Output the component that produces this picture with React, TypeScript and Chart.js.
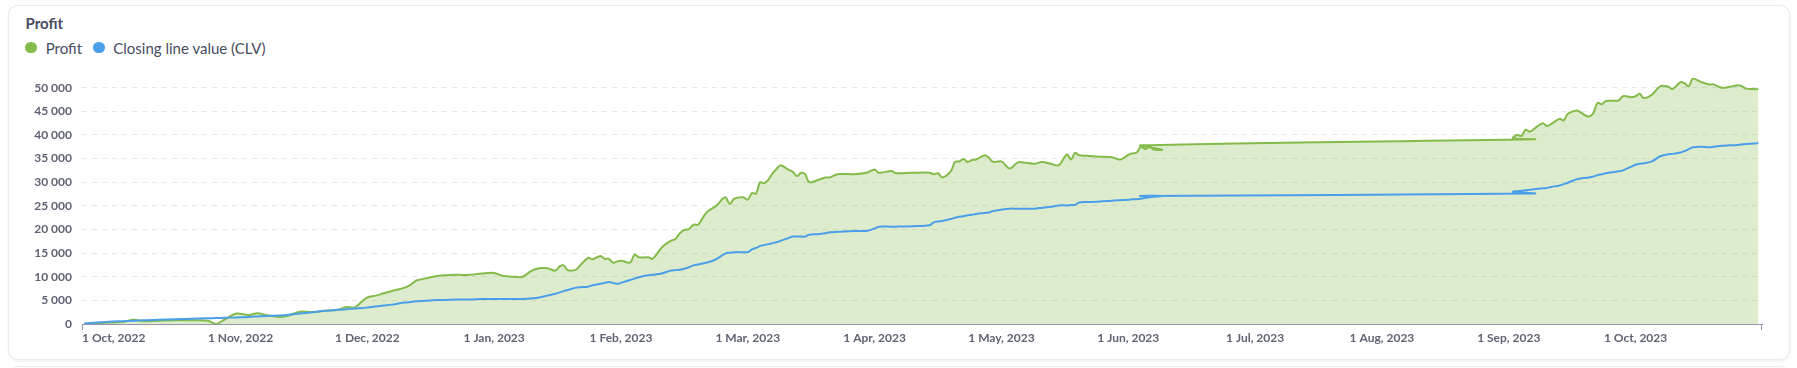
import React, { useEffect, useRef } from 'react';
import { Chart, registerables } from 'chart.js';

Chart.register(...registerables);

// ---- data ----
const dates: string[] = [
  '2022-09-24', '2022-09-27', '2022-09-30',
  '2022-10-03', '2022-10-06', '2022-10-08', '2022-10-12', '2022-10-16', '2022-10-20', '2022-10-24', '2022-10-26', '2022-10-28', '2022-10-31',
  '2022-11-03', '2022-11-05', '2022-11-07', '2022-11-10', '2022-11-12', '2022-11-15', '2022-11-18', '2022-11-21', '2022-11-24', '2022-11-26', '2022-11-28', '2022-11-30',
  '2022-12-01', '2022-12-03', '2022-12-05', '2022-12-07', '2022-12-09', '2022-12-11', '2022-12-13', '2022-12-15', '2022-12-17', '2022-12-20', '2022-12-23', '2022-12-26', '2022-12-29',
  '2023-01-01', '2023-01-03', '2023-01-06', '2023-01-08', '2023-01-10', '2023-01-12', '2023-01-14', '2023-01-16', '2023-01-17', '2023-01-18', '2023-01-19', '2023-01-21', '2023-01-22', '2023-01-24', '2023-01-25', '2023-01-27', '2023-01-28', '2023-01-29', '2023-01-30', '2023-01-31',
  '2023-02-01', '2023-02-03', '2023-02-04', '2023-02-05', '2023-02-07', '2023-02-08', '2023-02-10', '2023-02-12', '2023-02-13', '2023-02-14', '2023-02-15', '2023-02-16', '2023-02-17', '2023-02-18', '2023-02-19', '2023-02-20', '2023-02-22', '2023-02-24', '2023-02-25', '2023-02-26', '2023-02-28',
  '2023-03-01', '2023-03-02', '2023-03-03', '2023-03-04', '2023-03-05', '2023-03-06', '2023-03-07', '2023-03-08', '2023-03-09', '2023-03-11', '2023-03-12', '2023-03-13', '2023-03-14', '2023-03-15', '2023-03-16', '2023-03-18', '2023-03-20', '2023-03-21', '2023-03-23', '2023-03-27', '2023-03-30',
  '2023-04-01', '2023-04-02', '2023-04-05', '2023-04-06', '2023-04-10', '2023-04-14', '2023-04-15', '2023-04-16', '2023-04-17', '2023-04-19', '2023-04-20', '2023-04-21', '2023-04-22', '2023-04-23', '2023-04-24', '2023-04-25', '2023-04-27', '2023-04-28', '2023-04-29',
  '2023-05-01', '2023-05-03', '2023-05-05', '2023-05-07', '2023-05-09', '2023-05-11', '2023-05-13', '2023-05-15', '2023-05-17', '2023-05-18', '2023-05-19', '2023-05-20', '2023-05-22', '2023-05-25', '2023-05-28', '2023-05-30',
  '2023-06-01', '2023-06-02', '2023-06-03', '2023-06-04', '2023-06-05', '2023-06-06', '2023-06-07', '2023-06-09', '2023-06-04',
  '2023-09-07',
  '2023-09-02', '2023-09-03', '2023-09-04', '2023-09-05', '2023-09-06', '2023-09-07', '2023-09-09', '2023-09-10', '2023-09-11', '2023-09-13', '2023-09-14', '2023-09-15', '2023-09-17', '2023-09-18', '2023-09-19', '2023-09-20', '2023-09-21', '2023-09-22', '2023-09-23', '2023-09-24', '2023-09-27', '2023-09-28', '2023-09-30',
  '2023-10-01', '2023-10-02', '2023-10-03', '2023-10-05', '2023-10-07', '2023-10-09', '2023-10-10', '2023-10-12', '2023-10-13', '2023-10-14', '2023-10-15', '2023-10-17', '2023-10-19', '2023-10-20', '2023-10-22', '2023-10-24', '2023-10-26', '2023-10-27', '2023-10-28', '2023-10-30', '2023-10-31',
];

const profit: number[] = [
  0, 200, 300,
  400, 900, 600, 700, 800, 800, 700, 0, 900, 2200,
  1900, 2300, 1900, 1500, 1700, 2600, 2500, 2800, 3000, 3600, 3500, 5000,
  5600, 6000, 6500, 7000, 7400, 8000, 9200, 9600, 10000, 10300, 10400, 10400, 10700,
  10800, 10200, 10000, 10000, 11200, 11800, 11800, 11300, 12200, 12400, 11400, 11500, 12400, 14000, 13700, 14400, 13800, 13800, 13000, 13200,
  13400, 13000, 14700, 14100, 14100, 13800, 16200, 17600, 18000, 19200, 19900, 20100, 21000, 21000, 22400, 23700, 25000, 26800, 25400, 26500, 26800,
  26300, 27700, 27600, 30000, 29800, 30500, 31800, 32800, 33600, 32600, 32200, 31300, 32000, 31700, 30000, 30400, 31000, 31000, 31700, 31700, 32000,
  32700, 32000, 32400, 31900, 32000, 32000, 31700, 31900, 31000, 32300, 34300, 34400, 34900, 34300, 34700, 34800, 35700, 35200, 34300,
  34400, 32900, 34200, 34100, 33900, 34300, 33900, 33600, 35900, 34800, 36200, 35700, 35600, 35400, 35300, 34800,
  35800, 36100, 36300, 37500, 37000, 37600, 36900, 36900, 37800,
  39100,
  39300, 40000, 39800, 41100, 40700, 41300, 42500, 41900, 42300, 43400, 43100, 44500, 45200, 44800, 44200, 43900, 44600, 46800, 46500, 47200, 47300, 48200, 48000,
  48200, 48700, 47800, 48500, 50300, 50200, 49700, 51200, 50900, 50300, 51900, 51200, 50700, 50700, 50000, 50200, 50500, 50300, 49800, 49700, 49700,
];

const clv: number[] = [
  100, 300, 500,
  600, 700, 800, 900, 1000, 1100, 1200, 1250, 1300, 1400,
  1500, 1600, 1700, 1800, 1900, 2200, 2500, 2800, 3000, 3100, 3300, 3400,
  3500, 3700, 3900, 4100, 4400, 4600, 4800, 4900, 5000, 5100, 5200, 5200, 5300,
  5300, 5300, 5300, 5300, 5400, 5600, 6000, 6400, 6700, 7000, 7200, 7700, 7800, 7900, 8200, 8500, 8700, 8900, 8700, 8500,
  8700, 9300, 9600, 9900, 10300, 10400, 10700, 11300, 11400, 11500, 11700, 12000, 12400, 12600, 12800, 13000, 13700, 14900, 15100, 15200, 15200,
  15200, 15800, 16100, 16500, 16700, 16900, 17100, 17300, 17600, 18200, 18500, 18500, 18500, 18500, 18900, 19000, 19200, 19400, 19500, 19700, 19700,
  20200, 20600, 20600, 20600, 20700, 20900, 21500, 21700, 21800, 22200, 22500, 22700, 22800, 23000, 23100, 23300, 23500, 23600, 23900,
  24200, 24400, 24400, 24400, 24400, 24600, 24800, 25100, 25100, 25200, 25200, 25700, 25800, 25900, 26100, 26200,
  26300, 26400, 26400, 26500, 26700, 26800, 26900, 27100, 27100,
  27600,
  28000, 28100, 28200, 28300, 28400, 28500, 28700, 28800, 29000, 29300, 29600, 29900, 30600, 30800, 30900, 31000, 31200, 31500, 31700, 31900, 32300, 32500, 33300,
  33700, 33900, 34000, 34400, 35500, 35900, 36000, 36300, 36600, 37000, 37400, 37500, 37400, 37500, 37700, 37800, 37900, 38000, 38100, 38200, 38300,
];

const tickDates: string[] = [
  '2022-10-01', '2022-11-01', '2022-12-01', '2023-01-01', '2023-02-01', '2023-03-01', '2023-04-01',
  '2023-05-01', '2023-06-01', '2023-07-01', '2023-08-01', '2023-09-01', '2023-10-01',
];
const monthNames: string[] = ['Jan', 'Feb', 'Mar', 'Apr', 'May', 'Jun', 'Jul', 'Aug', 'Sep', 'Oct', 'Nov', 'Dec'];
const yTicks: number[] = [0, 5000, 10000, 15000, 20000, 25000, 30000, 35000, 40000, 45000, 50000];

const seriesNames: string[] = ['Profit', 'Closing line value (CLV)'];
const seriesColors: string[] = ['#84bb4a', '#4b9fe8'];

const Y_MAX = 52900;

// ---- helpers ----
// Position on the x axis in month units (every month has equal width, 0 = 1 Oct 2022)
function pos(d: string): number {
  const [y, m, day] = d.split('-').map(Number);
  const monthIdx = (y - 2022) * 12 + (m - 1) - 9;
  const daysInMonth = new Date(y, m, 0).getDate();
  return monthIdx + (day - 1) / daysInMonth;
}
function tickLabel(d: string): string {
  const [y, m, day] = d.split('-').map(Number);
  return `${day} ${monthNames[m - 1]}, ${y}`;
}
function fmt(v: number): string {
  return String(Math.round(v)).replace(/\B(?=(\d{3})+(?!\d))/g, ' ');
}

const X_MIN = pos(dates[0]) - 0.5 / 30;
const X_MAX = pos('2023-11-01');
const AXIS_COLOR = '#9196aa';
const TICK_COLOR = '#5f6373';
const FONT = 'Lato, "Noto Sans", sans-serif';

const endTicks = {
  id: 'endTicks',
  afterDraw(chart: any) {
    const { ctx, chartArea } = chart;
    const { left, right, bottom } = chartArea;
    ctx.save();
    ctx.strokeStyle = AXIS_COLOR;
    ctx.lineWidth = 1;
    ctx.beginPath();
    ctx.moveTo(Math.round(left) + 0.5, bottom);
    ctx.lineTo(Math.round(left) + 0.5, bottom + 6);
    ctx.moveTo(Math.round(right) - 0.5, bottom);
    ctx.lineTo(Math.round(right) - 0.5, bottom + 6);
    ctx.stroke();
    ctx.restore();
  },
};

export default function App() {
  const canvasRef = useRef<HTMLCanvasElement | null>(null);

  useEffect(() => {
    if (!canvasRef.current) return;
    const xs = dates.map(pos);
    const chart = new Chart(canvasRef.current, {
      type: 'line',
      data: {
        datasets: [
          {
            label: seriesNames[0],
            data: profit.map((v, i) => ({ x: xs[i], y: v })),
            borderColor: seriesColors[0],
            backgroundColor: 'rgba(132,187,74,0.28)',
            fill: 'origin',
            order: 1,
          },
          {
            label: seriesNames[1],
            data: clv.map((v, i) => ({ x: xs[i], y: v })),
            borderColor: seriesColors[1],
            backgroundColor: seriesColors[1],
            fill: false,
            order: 0,
          },
        ],
      },
      options: {
        responsive: false,
        animation: false,
        events: [],
        layout: { padding: { top: 12, right: 1797 - 1762.4, bottom: 0, left: 0 } },
        elements: {
          point: { radius: 0, hoverRadius: 0 },
          line: { tension: 0.35, borderWidth: 2 },
        },
        plugins: {
          legend: { display: false },
          tooltip: { enabled: false },
          title: { display: false },
        },
        scales: {
          x: {
            type: 'linear',
            min: X_MIN,
            max: X_MAX,
            grid: { display: false, drawTicks: false },
            border: { display: true, color: AXIS_COLOR, width: 1 },
            ticks: {
              autoSkip: false,
              maxRotation: 0,
              minRotation: 0,
              padding: 7,
              color: TICK_COLOR,
              font: { family: FONT, size: 12, weight: 'bold' },
              callback: (_v: any, i: number) => tickLabel(tickDates[i]),
            },
            afterBuildTicks: (s: any) => {
              s.ticks = tickDates.map((d) => ({ value: pos(d) }));
            },
            afterFit: (s: any) => {
              s.height = 26;
              s.paddingLeft = 0;
              s.paddingRight = 0;
            },
          },
          y: {
            type: 'linear',
            min: 0,
            max: Y_MAX,
            grid: { color: '#e7e7ea', drawTicks: false, lineWidth: 1 },
            border: { display: false, dash: [5, 5] },
            ticks: {
              autoSkip: false,
              padding: 10,
              color: TICK_COLOR,
              font: { family: FONT, size: 12, weight: 'bold' },
              callback: (_v: any, i: number) => fmt(yTicks[i]),
            },
            afterBuildTicks: (s: any) => {
              s.ticks = yTicks.map((v) => ({ value: v }));
            },
            afterFit: (s: any) => {
              s.width = 82;
              s.paddingTop = 0;
              s.paddingBottom = 0;
            },
          },
        },
      } as any,
      plugins: [endTicks],
    });
    return () => chart.destroy();
  }, []);

  const textColor = '#474c5e';
  return (
    <div style={{ position: 'absolute', left: 0, top: 0, width: 1797, height: 368, overflow: 'hidden', background: '#fff', fontFamily: FONT }}>
      <div
        style={{
          position: 'absolute', left: 8, top: 5, width: 1782, height: 355, boxSizing: 'border-box',
          border: '1px solid #ebebef', borderRadius: 10, background: '#fff',
          boxShadow: '0 1px 3px rgba(0,0,0,0.07)',
        }}
      />
      <div
        style={{
          position: 'absolute', left: 8, top: 366, width: 1782, height: 40, boxSizing: 'border-box',
          border: '1px solid #ebebef', borderRadius: 10, background: '#fff',
        }}
      />
      <div style={{ position: 'absolute', left: 25.5, top: 13.5, fontSize: 15, lineHeight: '18px', fontWeight: 700, color: textColor, whiteSpace: 'nowrap' }}>
        Profit
      </div>
      {seriesNames.map((name, i) => (
        <React.Fragment key={name}>
          <span
            style={{
              position: 'absolute', left: i === 0 ? 25.3 : 93.3, top: 42, width: 11.4, height: 11.4,
              borderRadius: '50%', background: seriesColors[i],
            }}
          />
          <span
            style={{
              position: 'absolute', left: i === 0 ? 45.7 : 113.3, top: 38.5, fontSize: 15, lineHeight: '18px',
              color: textColor, whiteSpace: 'nowrap',
            }}
          >
            {name}
          </span>
        </React.Fragment>
      ))}
      <canvas
        ref={canvasRef}
        width={1797}
        height={288}
        style={{ position: 'absolute', left: 0, top: 62, width: 1797, height: 288 }}
      />
    </div>
  );
}
